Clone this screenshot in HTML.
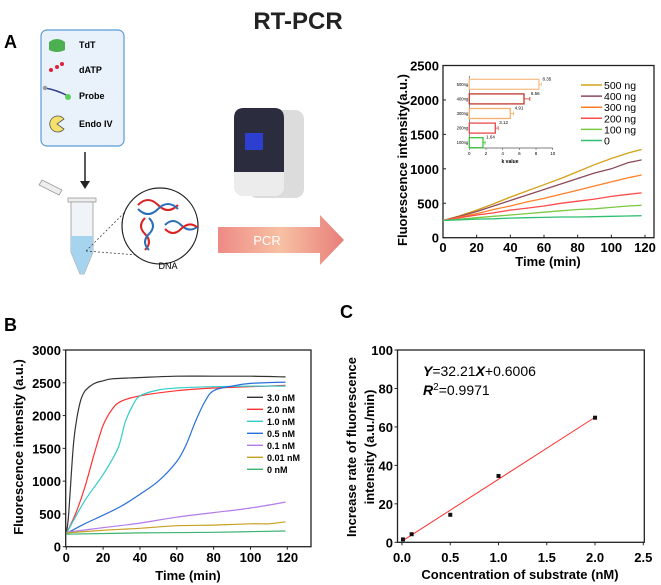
<!DOCTYPE html>
<html><head><meta charset="utf-8">
<style>
body{margin:0;background:#fff;}
svg{display:block;font-family:"Liberation Sans",Arial,sans-serif;}
</style></head>
<body>
<svg id="fig" width="661" height="585" viewBox="0 0 661 585">
<text x="298" y="29" font-size="24" font-weight="bold" text-anchor="middle" fill="#222">RT-PCR</text>
<text x="4" y="48" font-size="18" font-weight="bold">A</text>
<text x="4" y="331" font-size="18" font-weight="bold">B</text>
<text x="340" y="318" font-size="18" font-weight="bold">C</text>

<g>
<rect x="41" y="30" width="83" height="116" rx="6" fill="#e9f1fb" stroke="#5b9bd5" stroke-width="1.2"/>
<path d="M49 42 q8-6 16 0 v8 q-8 4-16 0z" fill="#4caf50"/>
<text x="79" y="48" font-size="9" font-weight="bold">TdT</text>
<g fill="#e0203a"><circle cx="51" cy="70" r="2"/><circle cx="57" cy="67" r="2"/><circle cx="62" cy="64" r="2"/></g>
<text x="79" y="73" font-size="9" font-weight="bold">dATP</text>
<path d="M45 88 q12 2 23 8" stroke="#34408a" stroke-width="1.5" fill="none"/><circle cx="45" cy="88" r="2.2" fill="#999"/><circle cx="68" cy="97" r="3" fill="#5bd15b"/>
<text x="79" y="99" font-size="9" font-weight="bold">Probe</text>
<path d="M57 124 L64 119 A8 8 0 1 0 64 129 Z" fill="#f4e06a" stroke="#555" stroke-width="0.8"/>
<text x="79" y="127" font-size="9" font-weight="bold">Endo IV</text>
</g>
<g><line x1="85" y1="152" x2="85" y2="182" stroke="#222" stroke-width="1.5"/><path d="M80 181 L90 181 L85 189Z" fill="#222"/></g>
<g>
<path d="M42 180 l20 10 l-3 5 l-20-10z" fill="#eee" stroke="#999" stroke-width="0.8"/>
<rect x="68" y="198" width="28" height="4" fill="#eee" stroke="#999" stroke-width="0.8"/>
<path d="M71 202 v50 l9 22 h4 l9-22 v-50z" fill="#f0f4f8" stroke="#999" stroke-width="0.8"/>
<path d="M71 236 h22 v16 l-9 22 h-4 l-9-22z" fill="#a6d4ef"/>
<line x1="86" y1="251" x2="150" y2="256" stroke="#444" stroke-dasharray="2,2" stroke-width="0.8"/>
<line x1="86" y1="251" x2="127" y2="210" stroke="#444" stroke-dasharray="2,2" stroke-width="0.8"/>
</g>
<g>
<circle cx="160" cy="226" r="38" fill="#fff" stroke="#222" stroke-width="1.2"/>
<path d="M138 205 q10 -10 20 0 t20 0" stroke="#d22" stroke-width="2" fill="none"/>
<path d="M138 209 q10 10 20 0 t20 0" stroke="#2a6fb8" stroke-width="2" fill="none"/>
<path d="M145 218 q-8 8 0 16 t0 16" stroke="#d22" stroke-width="2" fill="none"/>
<path d="M149 218 q8 8 0 16 t0 16" stroke="#2a6fb8" stroke-width="2" fill="none"/>
<path d="M165 225 q8 -8 16 0 t16 2" stroke="#2a6fb8" stroke-width="2" fill="none"/>
<path d="M165 229 q8 8 16 0 t16 -2" stroke="#d22" stroke-width="2" fill="none"/>
</g>
<text x="168" y="269" font-size="9" text-anchor="middle">DNA</text>
<g>
<rect x="248" y="110" width="56" height="88" rx="9" fill="#dcdcdc"/>
<rect x="234" y="108" width="50" height="88" rx="9" fill="#ececec"/>
<path d="M234 118 q0-10 10-10 h30 q10 0 10 10 v54 h-50z" fill="#2b2c3e"/>
<rect x="245" y="133" width="18" height="17" fill="#2d3fd0"/>
</g>
<defs><linearGradient id="pg" x1="0" x2="1"><stop offset="0" stop-color="#ee8a86"/><stop offset="0.5" stop-color="#f7c1a3"/><stop offset="1" stop-color="#e87d7a"/></linearGradient></defs>
<path d="M218 227 H320 V215 L344 240 L320 265 V253 H218Z" fill="url(#pg)"/>
<text x="267" y="245" font-size="13" fill="#fff" text-anchor="middle">PCR</text>
<g id="chartA"></g><g id="chartB"></g><g id="chartC"></g>
</svg>
<script>
const NS="http://www.w3.org/2000/svg";
function mk(p,tag,at){const e=document.createElementNS(NS,tag);for(const k in at)e.setAttribute(k,at[k]);p.appendChild(e);return e;}
function tx(p,x,y,s,at){const e=mk(p,'text',Object.assign({x:x,y:y},at));e.textContent=s;return e;}

// ---- Chart A data ----
const aTimes=[0,10,20,30,40,50,60,70,80,90,100,110,118];
const aLabels=["500 ng","400 ng","300 ng","200 ng","100 ng","0"];
const aColors=["#d4a017","#8b4a5a","#ff7f27","#ff4a4a","#7ac943","#2fbf71"];
const a500=[250,320,400,490,590,680,770,860,960,1060,1150,1230,1280];
const a400=[250,310,380,460,540,620,700,780,860,940,1000,1090,1130];
const a300=[250,300,350,410,460,520,570,630,690,750,810,870,910];
const a200=[250,290,330,360,400,430,460,500,530,560,600,630,650];
const a100=[250,270,290,310,330,350,370,390,410,420,440,460,470];
const a0=[250,260,270,275,285,290,295,300,300,305,310,315,320];
const aXTicks=[0,20,40,60,80,100,120];
const aYTicks=[0,500,1000,1500,2000,2500];
const kLabels=["500ng","400ng","300ng","200ng","100ng"];
const kValues=[8.35,6.56,4.91,3.12,1.64];
const kErrors=[0.3,0.7,0.4,0.35,0.25];
const kColors=["#f6c08a","#c0392b","#f5b06b","#e84b4b","#3ec43e"];
const kTicks=[0,2,4,6,8,10];

// ---- Chart B data ----
const bLabels=["3.0 nM","2.0 nM","1.0 nM","0.5 nM","0.1 nM","0.01 nM","0 nM"];
const bColors=["#333333","#ff3333","#33cccc","#2a6fdb","#b27be8","#c8a020","#3cb371"];
const bT30=[0,1,2,4,6,8,10,13,16,20,25,40,60,80,100,119];
const bV30=[200,400,800,1600,2000,2250,2370,2450,2500,2530,2560,2580,2600,2600,2600,2590];
const bT20=[0,5,10,15,20,25,30,40,60,80,100,119];
const bV20=[200,500,900,1400,1850,2100,2220,2300,2380,2420,2440,2460];
const bT10=[0,10,20,28,32,36,40,50,60,80,100,119];
const bV10=[200,700,1100,1500,1900,2150,2300,2390,2420,2440,2450,2450];
const bT05=[0,10,20,30,40,50,60,65,70,75,80,90,100,119];
const bV05=[200,350,480,620,800,1000,1300,1550,1900,2200,2380,2450,2490,2510];
const bT01=[0,20,40,60,80,100,119];
const bV01=[220,290,360,450,520,590,680];
const bT001=[0,20,40,60,80,100,110,119];
const bV001=[210,250,280,320,330,350,350,380];
const bT0=[0,40,80,119];
const bV0=[190,210,220,240];
const bXTicks=[0,20,40,60,80,100,120];
const bYTicks=[0,500,1000,1500,2000,2500,3000];

// ---- Chart C data ----
const cX=[0.01,0.1,0.5,1.0,2.0];
const cY=[1.5,4.2,14.3,34.5,64.8];
const cSlope=32.21, cIntercept=0.6006;
const cXTicks=[0.0,0.5,1.0,1.5,2.0,2.5];
const cYTicks=[0,20,40,60,80,100];

function axesBox(g,L,R,T,B,name){mk(g,'rect',{x:L,y:T,width:R-L,height:B-T,fill:'none',stroke:'#222','stroke-width':1.3,});}
function path(xs,ys,sx,sy){return xs.map((x,i)=>(i?'L':'M')+sx(x).toFixed(1)+' '+sy(ys[i]).toFixed(1)).join(' ');}
function smooth(xs,ys,sx,sy){const P=xs.map((x,i)=>[sx(x),sy(ys[i])]);let d='M'+P[0][0].toFixed(1)+' '+P[0][1].toFixed(1);
 for(let i=0;i<P.length-1;i++){const p0=P[Math.max(0,i-1)],p1=P[i],p2=P[i+1],p3=P[Math.min(P.length-1,i+2)];
  const c1=[p1[0]+(p2[0]-p0[0])/6,p1[1]+(p2[1]-p0[1])/6],c2=[p2[0]-(p3[0]-p1[0])/6,p2[1]-(p3[1]-p1[1])/6];
  d+=' C'+c1.map(v=>v.toFixed(1)).join(' ')+' '+c2.map(v=>v.toFixed(1)).join(' ')+' '+p2[0].toFixed(1)+' '+p2[1].toFixed(1);}
 return d;}

// Chart A
(function(){
 const g=document.getElementById('chartA');
 const L=443,R=654,T=65.5,B=237.7;
 const sx=v=>L+(v-0)*(645-443)/120, sy=v=>B-v*(B-T)/2500;
 axesBox(g,L,R,T,B,'chart-a-plot-area');
 aXTicks.forEach(t=>{mk(g,'line',{x1:sx(t),x2:sx(t),y1:B,y2:B-3,stroke:'#222'});const e=tx(g,sx(t),252,t,{'font-size':13,'font-weight':'bold','text-anchor':'middle'});});
 aYTicks.forEach(t=>{mk(g,'line',{x1:L,x2:L+3,y1:sy(t),y2:sy(t),stroke:'#222'});const e=tx(g,439,sy(t)+5,t,{'font-size':13,'font-weight':'bold','text-anchor':'end'});});
 let e=tx(g,548,266,'Time (min)',{'font-size':13,'font-weight':'bold','text-anchor':'middle'});
 e=tx(g,0,0,'Fluorescence intensity(a.u.)',{'font-size':13,'font-weight':'bold','text-anchor':'middle',transform:'translate(407,160) rotate(-90)'});
 const series=[a500,a400,a300,a200,a100,a0];
 series.forEach((s,i)=>{const p=mk(g,'path',{d:path(aTimes,s,sx,sy),fill:'none',stroke:aColors[i],'stroke-width':1.3});
  const ly=85+i*11.1;mk(g,'line',{x1:581,x2:602,y1:ly,y2:ly,stroke:aColors[i],'stroke-width':1.5});
  const t=tx(g,604,ly+4,aLabels[i],{'font-size':10.5});});
 const iL=469.3,iB=148,kx=v=>iL+v*(552.7-469.3)/10;
 mk(g,'line',{x1:iL,x2:iL,y1:76,y2:iB,stroke:'#555','stroke-width':0.7});
 mk(g,'line',{x1:iL,x2:kx(10),y1:iB,y2:iB,stroke:'#555','stroke-width':0.7});
 kTicks.forEach(t=>{mk(g,'line',{x1:kx(t),x2:kx(t),y1:iB,y2:iB+2,stroke:'#555','stroke-width':0.6});tx(g,kx(t),iB+7,t,{'font-size':4.5,'text-anchor':'middle'});});
 tx(g,510,163,'k value',{'font-size':5,'font-weight':'bold','text-anchor':'middle'});
 kValues.forEach((v,i)=>{const cy=84.3+i*14.6;
  const r=mk(g,'rect',{x:iL,y:cy-5,width:kx(v)-iL,height:10,fill:'none',stroke:kColors[i],'stroke-width':1.3});
  mk(g,'line',{x1:kx(v),x2:kx(v+kErrors[i]),y1:cy,y2:cy,stroke:kColors[i],'stroke-width':0.8});
  mk(g,'line',{x1:kx(v+kErrors[i]),x2:kx(v+kErrors[i]),y1:cy-2,y2:cy+2,stroke:kColors[i],'stroke-width':0.8});
  tx(g,kx(v+kErrors[i])+1,cy-4,v.toFixed(2),{'font-size':4.5});
  tx(g,iL-1,cy+1.5,kLabels[i],{'font-size':4.2,'text-anchor':'end'});});
})();

// Chart B
(function(){
 const g=document.getElementById('chartB');
 const L=65.7,R=311,T=350,B=546.7;
 const sx=v=>66.3+v*(287.3-66.3)/120, sy=v=>B-v*(B-T)/3000;
 axesBox(g,L,R,T,B,'chart-b-plot-area');
 bXTicks.forEach(t=>{mk(g,'line',{x1:sx(t),x2:sx(t),y1:B,y2:B+3,stroke:'#222'});const e=tx(g,sx(t),562,t,{'font-size':13,'font-weight':'bold','text-anchor':'middle'});});
 bYTicks.forEach(t=>{mk(g,'line',{x1:L,x2:L-3,y1:sy(t),y2:sy(t),stroke:'#222'});const e=tx(g,61,sy(t)+5,t,{'font-size':13,'font-weight':'bold','text-anchor':'end'});});
 let e=tx(g,188,580,'Time (min)',{'font-size':13,'font-weight':'bold','text-anchor':'middle'});
 e=tx(g,0,0,'Fluorescence intensity (a.u.)',{'font-size':13,'font-weight':'bold','text-anchor':'middle',transform:'translate(23,447) rotate(-90)'});
 const T_=[bT30,bT20,bT10,bT05,bT01,bT001,bT0],V_=[bV30,bV20,bV10,bV05,bV01,bV001,bV0];
 T_.forEach((ts,i)=>{const p=mk(g,'path',{d:smooth(ts,V_[i],sx,sy),fill:'none',stroke:bColors[i],'stroke-width':1.2,'stroke-linejoin':'round'});
  const ly=397.3+i*12;mk(g,'line',{x1:247,x2:263,y1:ly,y2:ly,stroke:bColors[i],'stroke-width':1.4});
  const t=tx(g,267,ly+3.5,bLabels[i],{'font-size':9,'font-weight':'bold'});});
})();

// Chart C
(function(){
 const g=document.getElementById('chartC');
 const L=397.5,R=644.3,T=350,B=542.3;
 const sx=v=>402+v*(643.3-402)/2.5, sy=v=>B-v*(B-T)/100;
 axesBox(g,L,R,T,B,'chart-c-plot-area');
 cXTicks.forEach(t=>{mk(g,'line',{x1:sx(t),x2:sx(t),y1:B,y2:B+3,stroke:'#222'});const e=tx(g,sx(t),562,t.toFixed(1),{'font-size':13,'font-weight':'bold','text-anchor':'middle'});});
 cYTicks.forEach(t=>{mk(g,'line',{x1:L,x2:L-3,y1:sy(t),y2:sy(t),stroke:'#222'});const e=tx(g,393,sy(t)+5,t,{'font-size':13,'font-weight':'bold','text-anchor':'end'});});
 let e=tx(g,520,579,'Concentration of substrate (nM)',{'font-size':13,'font-weight':'bold','text-anchor':'middle'});
 e=tx(g,0,0,'Increase rate of fluorescence',{'font-size':13,'font-weight':'bold','text-anchor':'middle',transform:'translate(356,447) rotate(-90)'});
 e=tx(g,0,0,'intensity  (a.u./min)',{'font-size':13,'font-weight':'bold','text-anchor':'middle',transform:'translate(374,447) rotate(-90)'});
 const x0=cX[0],x1=cX[cX.length-1];
 const fl=mk(g,'line',{x1:sx(x0),y1:sy(cSlope*x0+cIntercept),x2:sx(x1),y2:sy(cSlope*x1+cIntercept),stroke:'#ff3030','stroke-width':1});
 
 cX.forEach((x,i)=>{const r=mk(g,'rect',{x:sx(x)-2,y:sy(cY[i])-2,width:4,height:4,fill:'#111'});});
 const eq=mk(g,'text',{x:423,y:376,'font-size':14});
 eq.innerHTML='<tspan font-weight="bold" font-style="italic">Y</tspan>=32.21<tspan font-weight="bold" font-style="italic">X</tspan>+0.6006';
 const r2=mk(g,'text',{x:423,y:395,'font-size':14});
 r2.innerHTML='<tspan font-weight="bold" font-style="italic">R</tspan><tspan font-size="10" dy="-5">2</tspan><tspan dy="5">=0.9971</tspan>';
})();
</script>
</body></html>
